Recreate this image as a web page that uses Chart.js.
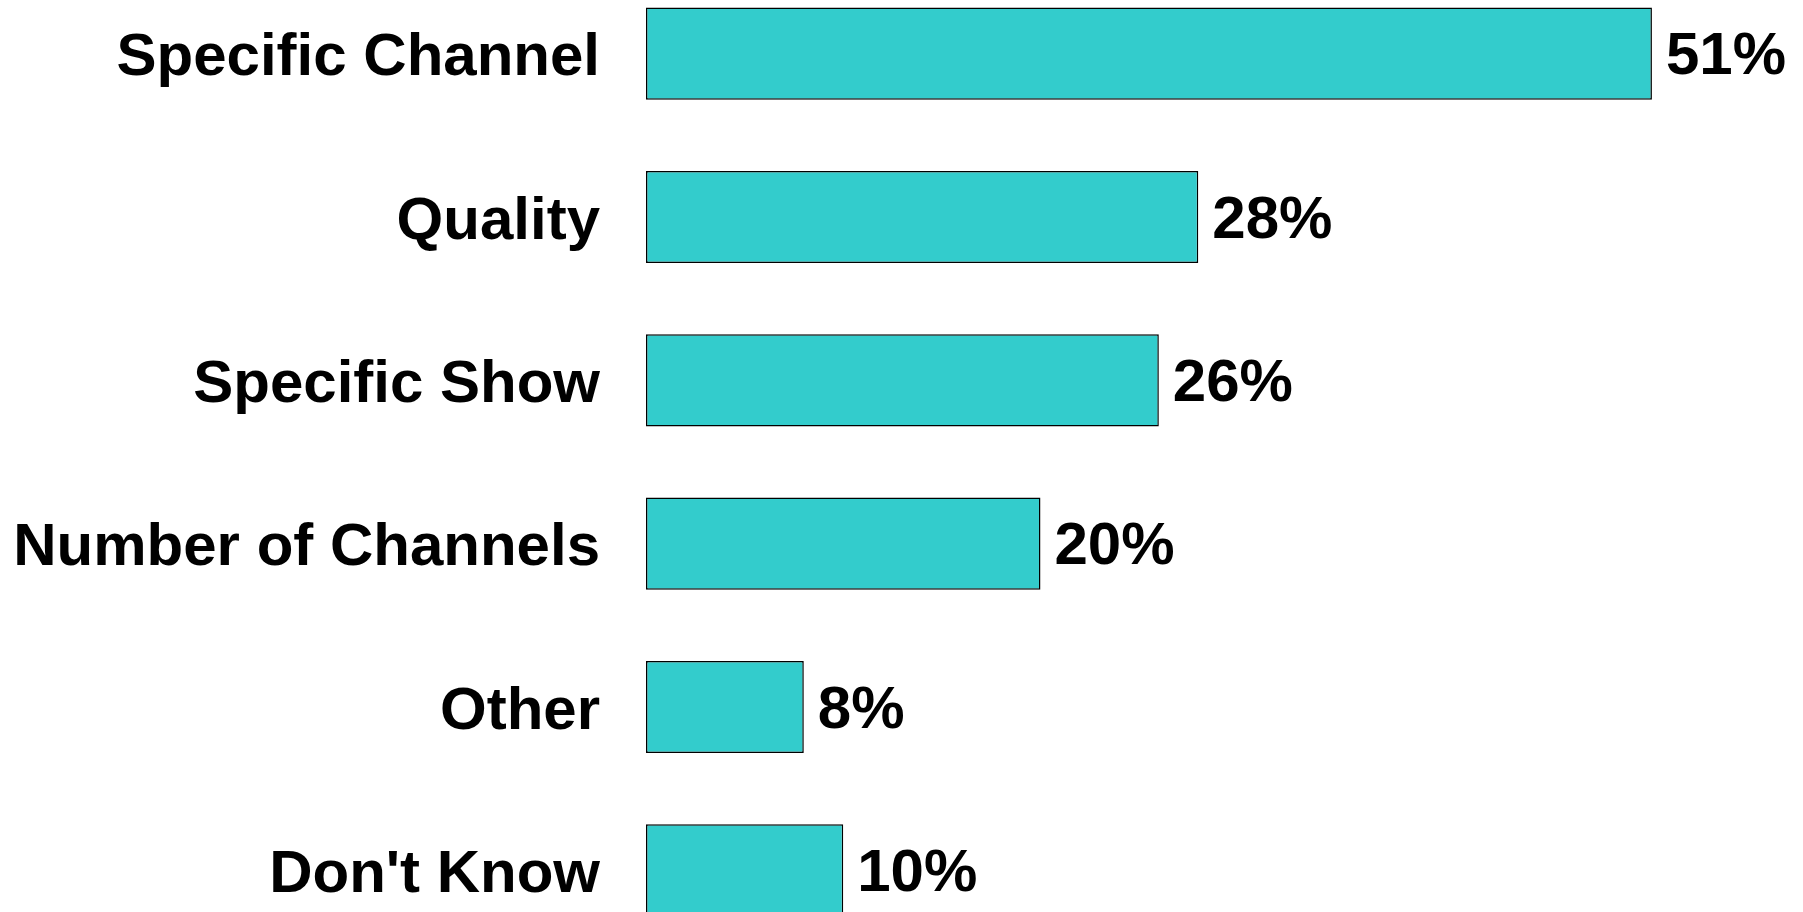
<!DOCTYPE html>
<html>
<head>
<meta charset="utf-8">
<title>Reasons</title>
<script src="https://cdn.jsdelivr.net/npm/chart.js@4/dist/chart.umd.min.js"></script>
<style>
  html, body { margin: 0; padding: 0; background: #fff; overflow: hidden; }
  body { width: 1803px; height: 912px; position: relative; }
  #chart { position: absolute; left: 0; top: -28px; }
</style>
</head>
<body>
<canvas id="chart" width="1803" height="980"></canvas>
<script>
const categories = ['Specific Channel', 'Quality', 'Specific Show', 'Number of Channels', 'Other', "Don't Know"];
const percents = [51, 28, 26, 20, 8, 10];

const FONT = '"Liberation Sans", Arial, Helvetica, sans-serif';

// percent labels at the end of each bar
const valueLabels = {
  id: 'valueLabels',
  afterDatasetsDraw(chart) {
    const ctx = chart.ctx;
    const meta = chart.getDatasetMeta(0);
    ctx.save();
    ctx.font = 'bold 60px ' + FONT;
    ctx.fillStyle = '#000';
    ctx.textAlign = 'left';
    ctx.textBaseline = 'middle';
    meta.data.forEach((bar, i) => {
      ctx.fillText(percents[i] + '%', bar.x + 14, bar.y + 4);
    });
    ctx.restore();
  },
};

new Chart(document.getElementById('chart'), {
  type: 'bar',
  data: {
    labels: categories,
    datasets: [{
      data: percents,
      backgroundColor: '#33CCCC',
      borderColor: '#000',
      borderWidth: 1.5,
      borderSkipped: false,
      categoryPercentage: 1,
      barPercentage: 0.564,
    }],
  },
  options: {
    indexAxis: 'y',
    animation: false,
    responsive: false,
    layout: { padding: { left: 0, right: 13, top: 0, bottom: 0 } },
    scales: {
      x: {
        display: false,
        min: 0,
        max: 58,
      },
      y: {
        // fixed label column, and no extra room above/below the bars
        afterFit(scale) {
          scale.width = 646;
          scale.paddingTop = 0;
          scale.paddingBottom = 0;
        },
        grid: { display: false },
        border: { display: false },
        ticks: {
          color: '#000',
          padding: 38,
          labelOffset: 5,
          font: { family: FONT, size: 60, weight: 'bold' },
        },
      },
    },
    plugins: {
      legend: { display: false },
      tooltip: { enabled: false },
    },
  },
  plugins: [valueLabels],
});
</script>
</body>
</html>
